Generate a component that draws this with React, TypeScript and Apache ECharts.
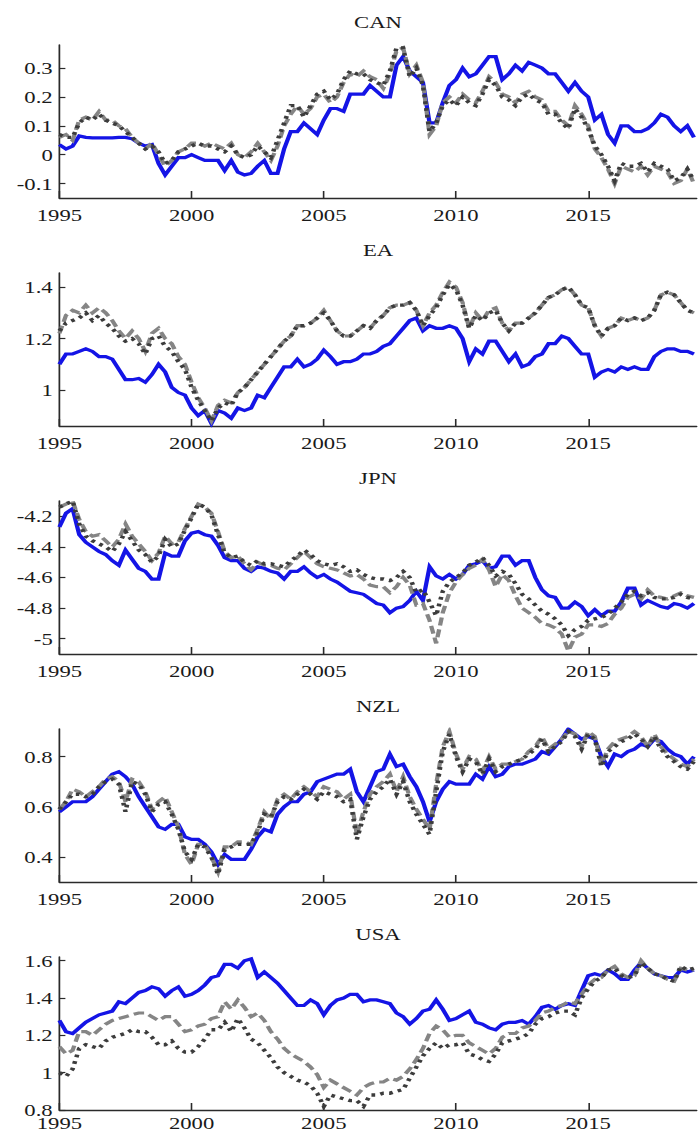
import React, { useEffect, useRef } from "react";
import * as echarts from "echarts";

// ---------- data (quarterly, starting 1995Q1) ----------
const START_YEAR = 1995;
const STEP = 0.25;
const panelNames = ["CAN", "EA", "JPN", "NZL", "USA"];
const xTicks = [1995, 2000, 2005, 2010, 2015];

const canTicks = [-0.1, 0, 0.1, 0.2, 0.3];
const eaTicks = [1, 1.2, 1.4];
const jpnTicks = [-5, -4.8, -4.6, -4.4, -4.2];
const nzlTicks = [0.4, 0.6, 0.8];
const usaTicks = [0.8, 1, 1.2, 1.4, 1.6];

const canBlue = [
  0.035, 0.02, 0.03, 0.065,
  0.06, 0.058, 0.058, 0.058,
  0.058, 0.06, 0.06, 0.055,
  0.04, 0.03, 0.035, -0.03,
  -0.07, -0.04, -0.01, -0.01,
  0.0, -0.01, -0.02, -0.02,
  -0.02, -0.055, -0.02, -0.06,
  -0.07, -0.065, -0.04, -0.02,
  -0.065, -0.065, 0.02, 0.08,
  0.08, 0.11, 0.09, 0.07,
  0.12, 0.16, 0.16, 0.15,
  0.21, 0.21, 0.21, 0.24,
  0.22, 0.2, 0.2, 0.31,
  0.34, 0.29, 0.27, 0.25,
  0.11, 0.11, 0.18, 0.24,
  0.26, 0.3, 0.27, 0.28,
  0.31, 0.34, 0.34, 0.26,
  0.28, 0.31, 0.29, 0.32,
  0.31, 0.3, 0.28, 0.28,
  0.25, 0.22, 0.25, 0.22,
  0.2, 0.12, 0.14, 0.07,
  0.04, 0.1, 0.1, 0.08,
  0.08, 0.09, 0.11, 0.14,
  0.13, 0.1, 0.08, 0.1,
  0.06,
];
const canDashed = [
  0.06, 0.07, 0.05, 0.12,
  0.13, 0.12, 0.15, 0.12,
  0.12, 0.1, 0.09, 0.06,
  0.04, 0.02, 0.04, 0.0,
  -0.04, -0.02, 0.01, 0.02,
  0.04, 0.04, 0.03, 0.04,
  0.03, 0.02, 0.04, 0.0,
  -0.01, 0.01, 0.04, 0.01,
  -0.02, 0.03, 0.1, 0.14,
  0.17, 0.14, 0.16, 0.2,
  0.21, 0.18, 0.2, 0.25,
  0.28, 0.27, 0.29, 0.27,
  0.26, 0.23, 0.28, 0.36,
  0.37, 0.28, 0.31, 0.25,
  0.07, 0.1, 0.18, 0.2,
  0.18, 0.21, 0.19, 0.18,
  0.22, 0.27, 0.25, 0.21,
  0.2, 0.18, 0.21, 0.22,
  0.2, 0.19, 0.15, 0.15,
  0.12, 0.1, 0.17, 0.14,
  0.1, 0.02, -0.01, -0.05,
  -0.1, -0.04, -0.05, -0.06,
  -0.04, -0.07, -0.04, -0.05,
  -0.06, -0.1, -0.09, -0.05,
  -0.1,
];
const canDotted = [
  0.07, 0.06, 0.06, 0.11,
  0.13, 0.12, 0.14, 0.12,
  0.11, 0.1, 0.08, 0.06,
  0.04, 0.02, 0.03, 0.01,
  -0.03, -0.02, 0.01, 0.02,
  0.03, 0.04, 0.03, 0.03,
  0.02, 0.01, 0.03, 0.0,
  -0.01, 0.0, 0.03, 0.01,
  -0.01, 0.05, 0.11, 0.17,
  0.17, 0.13, 0.17, 0.21,
  0.22, 0.19, 0.21, 0.26,
  0.29, 0.28, 0.28, 0.26,
  0.25, 0.24, 0.29, 0.37,
  0.37, 0.27, 0.3, 0.24,
  0.08, 0.11, 0.17, 0.19,
  0.17, 0.2, 0.18, 0.17,
  0.21, 0.26, 0.24, 0.2,
  0.19, 0.17, 0.2, 0.21,
  0.19, 0.18, 0.14, 0.14,
  0.11, 0.09, 0.16, 0.13,
  0.09, 0.03, 0.0, -0.04,
  -0.09, -0.03, -0.04, -0.04,
  -0.03, -0.06, -0.03, -0.04,
  -0.05, -0.09, -0.08, -0.05,
  -0.09,
];

const eaBlue = [
  1.1, 1.14, 1.14, 1.15,
  1.16, 1.15, 1.13, 1.13,
  1.12, 1.08, 1.04, 1.04,
  1.045, 1.03, 1.06, 1.1,
  1.07, 1.01, 0.99, 0.98,
  0.93, 0.9, 0.92, 0.87,
  0.92, 0.91, 0.89, 0.93,
  0.92, 0.93, 0.98, 0.97,
  1.01, 1.05, 1.09, 1.09,
  1.12, 1.09, 1.1, 1.12,
  1.155, 1.13, 1.1, 1.11,
  1.11, 1.12, 1.14, 1.14,
  1.15, 1.17, 1.18, 1.21,
  1.24, 1.27, 1.28, 1.23,
  1.25, 1.24, 1.24, 1.25,
  1.24, 1.2, 1.11, 1.16,
  1.14, 1.19, 1.19, 1.15,
  1.11, 1.14, 1.09, 1.1,
  1.13, 1.14, 1.18, 1.18,
  1.21, 1.2, 1.17, 1.14,
  1.14, 1.05, 1.07, 1.08,
  1.07, 1.09, 1.08, 1.09,
  1.08, 1.08, 1.13, 1.15,
  1.16, 1.16, 1.15, 1.15,
  1.14,
];
const eaDashed = [
  1.22, 1.29, 1.31, 1.3,
  1.33, 1.3, 1.32, 1.3,
  1.27, 1.23, 1.2, 1.23,
  1.2, 1.15, 1.22, 1.24,
  1.2, 1.18, 1.13, 1.1,
  1.03, 0.97, 0.93, 0.88,
  0.94, 0.96, 0.95, 0.99,
  1.01, 1.04, 1.07, 1.1,
  1.13, 1.16, 1.19, 1.21,
  1.25, 1.25, 1.26, 1.28,
  1.31, 1.27, 1.23, 1.21,
  1.21, 1.23, 1.25, 1.24,
  1.27, 1.29, 1.32, 1.33,
  1.33, 1.34, 1.31, 1.25,
  1.3, 1.33, 1.38, 1.42,
  1.4, 1.34, 1.24, 1.3,
  1.27, 1.31, 1.32, 1.26,
  1.23, 1.26, 1.26, 1.28,
  1.3, 1.33, 1.36, 1.37,
  1.39, 1.4, 1.37, 1.33,
  1.32, 1.25, 1.21, 1.24,
  1.25, 1.28, 1.27, 1.28,
  1.27, 1.28, 1.31, 1.37,
  1.38, 1.37, 1.34, 1.31,
  1.3,
];
const eaDotted = [
  1.23, 1.26, 1.27, 1.28,
  1.3, 1.27, 1.29, 1.26,
  1.24, 1.21, 1.19, 1.2,
  1.18, 1.14, 1.2, 1.21,
  1.17, 1.15, 1.11, 1.08,
  1.01, 0.96, 0.92, 0.88,
  0.93, 0.95, 0.94, 0.99,
  1.01, 1.04, 1.07, 1.1,
  1.13, 1.16, 1.19, 1.21,
  1.25, 1.25, 1.26, 1.28,
  1.3, 1.27, 1.23, 1.21,
  1.21, 1.23, 1.25, 1.24,
  1.27, 1.29, 1.32, 1.33,
  1.33, 1.34, 1.31, 1.25,
  1.29, 1.32, 1.37, 1.41,
  1.39, 1.33, 1.24, 1.29,
  1.27, 1.3, 1.31, 1.26,
  1.23, 1.26, 1.26, 1.28,
  1.3, 1.33, 1.36, 1.37,
  1.39, 1.4, 1.37, 1.33,
  1.32, 1.25, 1.21, 1.24,
  1.25, 1.28, 1.27, 1.28,
  1.27, 1.28, 1.31, 1.37,
  1.38, 1.37, 1.34, 1.31,
  1.3,
];

const jpnBlue = [
  -4.27, -4.18, -4.15, -4.32,
  -4.37, -4.4, -4.43, -4.45,
  -4.49, -4.52, -4.42, -4.48,
  -4.54, -4.56, -4.61, -4.61,
  -4.44, -4.46, -4.46, -4.36,
  -4.31, -4.3, -4.32, -4.33,
  -4.39, -4.47, -4.49, -4.49,
  -4.54, -4.56, -4.53, -4.54,
  -4.56, -4.57, -4.61, -4.56,
  -4.56, -4.53, -4.57, -4.6,
  -4.58, -4.61, -4.63, -4.66,
  -4.69, -4.7, -4.71, -4.74,
  -4.77, -4.78, -4.83, -4.8,
  -4.79, -4.75, -4.69, -4.75,
  -4.53, -4.59, -4.61, -4.58,
  -4.61, -4.58, -4.52, -4.51,
  -4.49, -4.54, -4.53, -4.46,
  -4.46, -4.52, -4.49, -4.49,
  -4.6, -4.68, -4.72, -4.73,
  -4.8, -4.8, -4.76, -4.79,
  -4.85, -4.81, -4.85, -4.82,
  -4.82, -4.76, -4.67, -4.67,
  -4.78, -4.75, -4.77, -4.79,
  -4.8, -4.77, -4.78, -4.8,
  -4.77,
];
const jpnDashed = [
  -4.14, -4.12, -4.1, -4.22,
  -4.3, -4.33, -4.32, -4.36,
  -4.4, -4.35, -4.25, -4.33,
  -4.38, -4.43, -4.49, -4.44,
  -4.33, -4.38, -4.37, -4.28,
  -4.2, -4.12, -4.14, -4.18,
  -4.3, -4.43, -4.47, -4.46,
  -4.51, -4.55, -4.5, -4.52,
  -4.52, -4.54, -4.55, -4.51,
  -4.47, -4.43, -4.47, -4.51,
  -4.53, -4.54, -4.55, -4.57,
  -4.59, -4.58, -4.61, -4.65,
  -4.66, -4.66, -4.7, -4.66,
  -4.6, -4.65, -4.78, -4.77,
  -4.88, -5.03, -4.83, -4.7,
  -4.63, -4.58, -4.54, -4.52,
  -4.48, -4.55, -4.66, -4.58,
  -4.62, -4.72, -4.8, -4.83,
  -4.86, -4.9, -4.91, -4.93,
  -4.97, -5.08, -4.99, -4.97,
  -4.91, -4.91, -4.92, -4.9,
  -4.84, -4.8, -4.73, -4.71,
  -4.74, -4.68, -4.72, -4.73,
  -4.74, -4.72, -4.7, -4.72,
  -4.73,
];
const jpnDotted = [
  -4.14, -4.12, -4.1, -4.25,
  -4.33, -4.36, -4.38, -4.4,
  -4.43, -4.38, -4.3, -4.36,
  -4.42, -4.45, -4.5, -4.46,
  -4.35, -4.4, -4.38, -4.29,
  -4.21, -4.12, -4.14, -4.19,
  -4.32, -4.44, -4.47, -4.46,
  -4.5, -4.52, -4.49, -4.51,
  -4.51, -4.52, -4.53, -4.49,
  -4.46, -4.42, -4.45, -4.49,
  -4.51, -4.52, -4.51, -4.53,
  -4.56, -4.55, -4.58, -4.6,
  -4.61, -4.61, -4.62, -4.6,
  -4.56, -4.6, -4.7, -4.68,
  -4.76, -4.85, -4.69, -4.63,
  -4.6, -4.57, -4.52, -4.5,
  -4.47, -4.52, -4.59, -4.56,
  -4.58, -4.64, -4.71, -4.74,
  -4.78, -4.82, -4.84, -4.87,
  -4.91, -4.98, -4.94, -4.92,
  -4.88, -4.87, -4.86, -4.84,
  -4.8, -4.76, -4.71, -4.69,
  -4.72, -4.7, -4.73, -4.74,
  -4.74, -4.73, -4.71, -4.73,
  -4.74,
];

const nzlBlue = [
  0.58, 0.6, 0.62, 0.62,
  0.62, 0.64, 0.67, 0.7,
  0.73, 0.74, 0.72, 0.69,
  0.64, 0.6, 0.56, 0.52,
  0.51, 0.53, 0.53, 0.48,
  0.47, 0.47, 0.45, 0.42,
  0.37, 0.41, 0.39, 0.39,
  0.39, 0.43, 0.48, 0.51,
  0.5, 0.57, 0.6, 0.62,
  0.62, 0.65, 0.66, 0.7,
  0.71, 0.72, 0.73, 0.73,
  0.75, 0.66, 0.62, 0.68,
  0.74, 0.75, 0.81, 0.76,
  0.77, 0.72, 0.68, 0.62,
  0.54, 0.62, 0.67, 0.7,
  0.69, 0.69, 0.69, 0.73,
  0.71, 0.76, 0.72, 0.73,
  0.76, 0.77, 0.77, 0.78,
  0.79, 0.82, 0.81, 0.84,
  0.87, 0.91, 0.89, 0.87,
  0.88, 0.87, 0.8, 0.76,
  0.81, 0.8, 0.82, 0.83,
  0.85, 0.84, 0.87, 0.86,
  0.83, 0.81, 0.8, 0.77,
  0.8,
];
const nzlDashed = [
  0.59, 0.62, 0.67, 0.66,
  0.64, 0.66, 0.68, 0.71,
  0.72, 0.7, 0.62, 0.71,
  0.7, 0.66, 0.59, 0.62,
  0.64, 0.58, 0.52, 0.41,
  0.37, 0.45, 0.45, 0.4,
  0.34, 0.44, 0.44, 0.46,
  0.46, 0.45, 0.51, 0.58,
  0.55, 0.63, 0.65, 0.63,
  0.66, 0.68, 0.66, 0.64,
  0.68, 0.67, 0.66, 0.63,
  0.65, 0.49, 0.58, 0.65,
  0.68, 0.7, 0.73, 0.66,
  0.72, 0.64, 0.59, 0.55,
  0.51, 0.69, 0.84, 0.9,
  0.81, 0.75, 0.8, 0.79,
  0.74, 0.8, 0.75, 0.77,
  0.77, 0.78, 0.79, 0.82,
  0.84, 0.88, 0.83, 0.85,
  0.87, 0.9, 0.89, 0.84,
  0.9, 0.88, 0.77, 0.83,
  0.86, 0.87, 0.88, 0.9,
  0.88, 0.84, 0.89, 0.84,
  0.81, 0.79, 0.77, 0.76,
  0.79,
];
const nzlDotted = [
  0.59, 0.62, 0.65, 0.65,
  0.64, 0.65, 0.68, 0.7,
  0.71, 0.69, 0.58, 0.7,
  0.69, 0.65, 0.58, 0.61,
  0.62, 0.57, 0.51, 0.42,
  0.39, 0.45, 0.44, 0.4,
  0.33, 0.43, 0.44, 0.45,
  0.45, 0.45, 0.5, 0.57,
  0.56, 0.62, 0.64, 0.63,
  0.65, 0.67, 0.65, 0.63,
  0.66, 0.65, 0.64, 0.62,
  0.63, 0.47, 0.56, 0.63,
  0.66, 0.68, 0.71, 0.65,
  0.7, 0.62, 0.57, 0.53,
  0.49, 0.66, 0.82, 0.89,
  0.8, 0.74, 0.79, 0.78,
  0.73, 0.79, 0.74, 0.76,
  0.77, 0.78, 0.79, 0.81,
  0.83, 0.87, 0.82, 0.84,
  0.86, 0.9, 0.88, 0.83,
  0.89, 0.87, 0.76, 0.82,
  0.84, 0.86, 0.87, 0.89,
  0.87, 0.84, 0.88, 0.83,
  0.8, 0.78, 0.76, 0.75,
  0.78,
];

const usaBlue = [
  1.28, 1.22, 1.21, 1.24,
  1.27, 1.29, 1.31, 1.32,
  1.33, 1.38, 1.37, 1.4,
  1.43, 1.44, 1.46, 1.45,
  1.41, 1.44, 1.46, 1.41,
  1.42, 1.44, 1.47, 1.51,
  1.52, 1.58, 1.58, 1.56,
  1.6, 1.61, 1.51, 1.54,
  1.51, 1.48, 1.44, 1.4,
  1.36, 1.36, 1.39, 1.37,
  1.31, 1.36, 1.39, 1.4,
  1.42, 1.42, 1.38, 1.39,
  1.39, 1.38, 1.37, 1.32,
  1.3, 1.26, 1.29, 1.33,
  1.34, 1.39, 1.34, 1.28,
  1.29, 1.31, 1.33, 1.27,
  1.26, 1.24, 1.23, 1.26,
  1.27, 1.27, 1.28, 1.26,
  1.3, 1.35, 1.36, 1.34,
  1.36, 1.37, 1.36, 1.44,
  1.52, 1.53, 1.52, 1.55,
  1.53, 1.5, 1.5, 1.55,
  1.59, 1.56, 1.53, 1.52,
  1.51, 1.51, 1.55, 1.54,
  1.55,
];
const usaDashed = [
  1.14, 1.1, 1.12, 1.22,
  1.22, 1.2, 1.23, 1.26,
  1.28, 1.29, 1.3, 1.31,
  1.32, 1.32, 1.3, 1.28,
  1.3, 1.3, 1.26, 1.22,
  1.23, 1.25, 1.26, 1.29,
  1.3, 1.38, 1.34, 1.39,
  1.35, 1.3, 1.32, 1.28,
  1.22, 1.18, 1.13, 1.1,
  1.08, 1.06, 1.03, 0.99,
  0.92, 0.96, 0.94, 0.92,
  0.9, 0.88, 0.92, 0.94,
  0.95, 0.95, 0.97, 0.96,
  0.98, 1.02, 1.07, 1.13,
  1.21, 1.25, 1.23, 1.19,
  1.2, 1.2, 1.16, 1.14,
  1.12, 1.1, 1.13, 1.19,
  1.21, 1.21, 1.24, 1.25,
  1.28, 1.32, 1.33, 1.35,
  1.36, 1.38, 1.37, 1.42,
  1.47, 1.5, 1.51, 1.55,
  1.57, 1.53, 1.51, 1.52,
  1.6, 1.56, 1.53, 1.52,
  1.5, 1.49, 1.56, 1.55,
  1.55,
];
const usaDotted = [
  1.0, 0.98, 1.02, 1.13,
  1.15, 1.14, 1.13, 1.17,
  1.19, 1.2, 1.21, 1.23,
  1.22, 1.22, 1.19, 1.15,
  1.15, 1.17, 1.13, 1.11,
  1.11, 1.14, 1.18, 1.23,
  1.23, 1.27, 1.22, 1.29,
  1.24, 1.18, 1.16, 1.12,
  1.08, 1.03, 1.0, 0.98,
  0.96, 0.95, 0.93, 0.89,
  0.82, 0.88, 0.87, 0.86,
  0.85, 0.85, 0.82, 0.88,
  0.88, 0.89, 0.89, 0.9,
  0.91, 0.97, 1.03, 1.09,
  1.13, 1.16, 1.13, 1.15,
  1.15, 1.16, 1.1, 1.09,
  1.07, 1.06, 1.1, 1.16,
  1.17, 1.18, 1.19, 1.21,
  1.26, 1.29, 1.3, 1.32,
  1.33, 1.33, 1.31, 1.4,
  1.45, 1.49, 1.51, 1.55,
  1.56, 1.52, 1.51, 1.52,
  1.59, 1.56, 1.53, 1.52,
  1.5, 1.49, 1.57, 1.55,
  1.56,
];

const panelSeries = [
  [canBlue, canDashed, canDotted],
  [eaBlue, eaDashed, eaDotted],
  [jpnBlue, jpnDashed, jpnDotted],
  [nzlBlue, nzlDashed, nzlDotted],
  [usaBlue, usaDashed, usaDotted],
];
const panelTicks = [canTicks, eaTicks, jpnTicks, nzlTicks, usaTicks];

// ---------- layout / style ----------
const W = 523; // drawn width before horizontal stretch
const H = 1144;
const STRETCH = 1.3345;
const GRID_LEFT = 44.5;
const GRID_WIDTH = 477.5;
const GRID_TOPS = [45, 273, 501, 729, 957];
const GRID_HEIGHT = 153;
const Y_RANGES = [
  [-0.15, 0.38],
  [0.86, 1.455],
  [-5.1, -4.1],
  [0.3, 0.91],
  [0.8, 1.62],
];
const X_MIN = 1995;
const X_MAX = 2019.1;
const FONT = "'Liberation Serif', 'Times New Roman', serif";
const AXIS_COLOR = "#2a2a2a";

const lineStyles = [
  { color: "#1414e6", width: 3.2, type: "solid" },
  { color: "#858585", width: 3.2, type: [8, 4] },
  { color: "#3c3c3c", width: 3.4, type: [2.8, 4] },
];

function toPoints(arr: number[]) {
  return arr.map((v, k) => [START_YEAR + k * STEP, v]);
}

export default function App() {
  const ref = useRef<HTMLDivElement>(null);

  useEffect(() => {
    if (!ref.current) return;
    document.body.style.overflow = "hidden";
    const chart = echarts.init(ref.current, null, { renderer: "svg" });

    const grid = GRID_TOPS.map((top) => ({
      left: GRID_LEFT,
      width: GRID_WIDTH,
      top,
      height: GRID_HEIGHT,
      containLabel: false,
    }));

    const xAxis = GRID_TOPS.map((_, i) => ({
      type: "value",
      gridIndex: i,
      min: X_MIN,
      max: X_MAX,
      axisLine: { show: true, onZero: false, lineStyle: { color: AXIS_COLOR, width: 1.3 } },
      axisTick: {
        show: true,
        inside: true,
        length: 7,
        customValues: xTicks,
        lineStyle: { color: AXIS_COLOR, width: 1.2 },
      },
      axisLabel: {
        show: true,
        customValues: xTicks,
        margin: i === 4 ? 5 : 9,
        fontFamily: FONT,
        fontSize: 17,
        color: "#1a1a1a",
        formatter: (v: number) => String(Math.round(v)),
      },
      splitLine: { show: false },
    }));

    const yAxis = GRID_TOPS.map((_, i) => ({
      type: "value",
      gridIndex: i,
      min: Y_RANGES[i][0],
      max: Y_RANGES[i][1],
      axisLine: { show: true, onZero: false, lineStyle: { color: AXIS_COLOR, width: 1.3 } },
      axisTick: {
        show: true,
        inside: true,
        length: 4.5,
        customValues: panelTicks[i],
        lineStyle: { color: AXIS_COLOR, width: 1.2 },
      },
      axisLabel: {
        show: true,
        customValues: panelTicks[i],
        margin: 5,
        fontFamily: FONT,
        fontSize: 17,
        color: "#1a1a1a",
        formatter: (v: number) => String(Math.round(v * 100) / 100),
      },
      splitLine: { show: false },
    }));

    const series: any[] = [];
    panelSeries.forEach((group, i) => {
      group.forEach((arr, j) => {
        series.push({
          type: "line",
          xAxisIndex: i,
          yAxisIndex: i,
          data: toPoints(arr),
          showSymbol: false,
          symbol: "none",
          clip: true,
          z: 2 + j,
          lineStyle: { ...lineStyles[j], cap: "butt", join: "miter" },
        });
      });
    });

    const graphic = panelNames.map((name, i) => ({
      type: "text",
      x: GRID_LEFT + GRID_WIDTH / 2,
      y: GRID_TOPS[i] - 23,
      style: {
        text: name,
        fontFamily: FONT,
        fontSize: 17,
        fill: "#1a1a1a",
        align: "center",
        verticalAlign: "middle",
      },
    }));

    chart.setOption({
      animation: false,
      backgroundColor: "#ffffff",
      grid,
      xAxis,
      yAxis,
      series,
      graphic,
    });

    return () => {
      chart.dispose();
    };
  }, []);

  return (
    <div
      style={{
        position: "absolute",
        left: 0,
        top: 0,
        width: W * STRETCH,
        height: H,
        overflow: "hidden",
        background: "#fff",
      }}
    >
      <div
        ref={ref}
        style={{
          width: W,
          height: H,
          transform: `scaleX(${STRETCH})`,
          transformOrigin: "0 0",
        }}
      />
    </div>
  );
}
